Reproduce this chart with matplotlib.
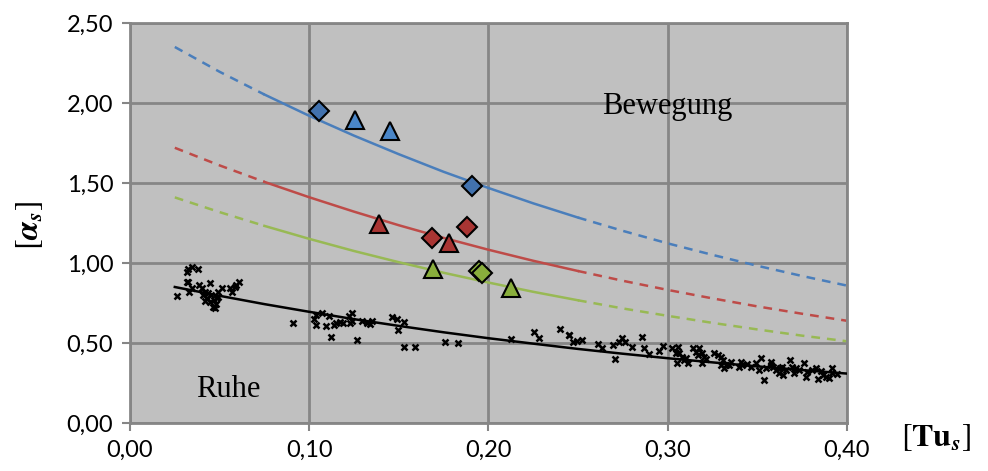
#!/usr/bin/env python
import matplotlib
matplotlib.use('Agg')
import matplotlib.pyplot as plt
import numpy as np

matplotlib.rc('mathtext', fontset='stix')

# fitted curves at regular Tu steps
tu_curve = np.array([0.025, 0.05, 0.075, 0.10, 0.125, 0.15, 0.175, 0.20,
                     0.225, 0.25, 0.275, 0.30, 0.325, 0.35, 0.375, 0.40])
blue_curve = np.array([2.35, 2.195, 2.053, 1.920, 1.796, 1.680, 1.570, 1.469,
                       1.373, 1.284, 1.201, 1.123, 1.051, 0.983, 0.919, 0.859])
red_curve = np.array([1.72, 1.610, 1.507, 1.411, 1.321, 1.236, 1.157, 1.083,
                      1.014, 0.950, 0.889, 0.832, 0.779, 0.729, 0.683, 0.639])
green_curve = np.array([1.41, 1.318, 1.232, 1.151, 1.075, 1.005, 0.939, 0.878,
                        0.820, 0.767, 0.716, 0.670, 0.626, 0.585, 0.546, 0.511])
black_curve = np.array([0.85, 0.795, 0.743, 0.695, 0.649, 0.607, 0.567, 0.530,
                        0.496, 0.463, 0.433, 0.405, 0.379, 0.354, 0.331, 0.309])
solid_from, solid_to = 0.075, 0.25

# measured points (Bewegung)
blue_dia_x = [0.1055, 0.191]
blue_dia_y = [1.952, 1.481]
blue_tri_x = [0.1256, 0.1453]
blue_tri_y = [1.894, 1.826]
red_dia_x = [0.1687, 0.188]
red_dia_y = [1.158, 1.227]
red_tri_x = [0.139, 0.1778]
red_tri_y = [1.242, 1.127]
green_dia_x = [0.1947, 0.1966]
green_dia_y = [0.950, 0.936]
green_tri_x = [0.1689, 0.2126]
green_tri_y = [0.9625, 0.842]

# measured points (Ruhe)
ruhe_x = [0.0264, 0.0319, 0.0325, 0.0344, 0.0381, 0.0316, 0.0325, 0.033, 0.0344, 0.0386,
          0.040, 0.0446, 0.0409, 0.0427, 0.0437, 0.0446, 0.0465, 0.0474, 0.045, 0.0483,
          0.0492, 0.0511, 0.049, 0.047, 0.0557, 0.0567, 0.0585, 0.0609, 0.059, 0.042,
          0.042, 0.048,
          0.0907, 0.1037, 0.1026, 0.104, 0.1074, 0.1096, 0.111, 0.1119, 0.1137, 0.1152,
          0.117, 0.1186, 0.1223, 0.123, 0.1241, 0.124, 0.1267, 0.1297, 0.1323, 0.134,
          0.1353, 0.1464, 0.149, 0.1531, 0.1498, 0.1531, 0.159, 0.176, 0.1828, 0.2129,
          0.2256, 0.2281, 0.240, 0.245,
          0.2449, 0.247, 0.2495, 0.2523, 0.261, 0.2635, 0.2694, 0.2709, 0.2728, 0.2744,
          0.2765, 0.2802, 0.2858, 0.287, 0.2899, 0.2954, 0.2977, 0.3025, 0.3047, 0.3051,
          0.3056, 0.3066, 0.3094, 0.3112, 0.3103, 0.308, 0.314, 0.3159, 0.3177, 0.3192,
          0.3168, 0.3205, 0.3215, 0.3192, 0.326, 0.328, 0.3298, 0.3307, 0.3298, 0.3317,
          0.3326, 0.3344, 0.341, 0.3415, 0.340, 0.3465, 0.3493, 0.352, 0.3512, 0.354,
          0.3549, 0.3577, 0.3586, 0.3605, 0.3623, 0.3642, 0.3638, 0.366, 0.3682, 0.3697,
          0.3716, 0.3735, 0.3763, 0.3772, 0.3781, 0.3809, 0.3828, 0.3837, 0.3865, 0.3884,
          0.3902, 0.3917, 0.392, 0.3948, 0.3355, 0.3445, 0.3575, 0.3625, 0.3705, 0.3855]
ruhe_y = [0.794, 0.946, 0.962, 0.973, 0.960, 0.883, 0.883, 0.820, 0.842, 0.862,
          0.842, 0.873, 0.800, 0.779, 0.810, 0.758, 0.727, 0.717, 0.800, 0.779,
          0.820, 0.842, 0.790, 0.770, 0.842, 0.820, 0.852, 0.879, 0.865, 0.820,
          0.760, 0.745,
          0.627, 0.675, 0.648, 0.612, 0.685, 0.606, 0.669, 0.540, 0.612, 0.627,
          0.630, 0.623, 0.669, 0.623, 0.689, 0.640, 0.519, 0.639, 0.627, 0.620,
          0.639, 0.664, 0.648, 0.631, 0.580, 0.473, 0.473, 0.508, 0.498, 0.525,
          0.571, 0.533, 0.585, 0.550,
          0.550, 0.508, 0.510, 0.519, 0.492, 0.471, 0.487, 0.398, 0.508, 0.533,
          0.508, 0.477, 0.539, 0.467, 0.429, 0.452, 0.483, 0.467, 0.436, 0.377,
          0.473, 0.436, 0.394, 0.373, 0.404, 0.414, 0.467, 0.446, 0.467, 0.436,
          0.425, 0.414, 0.398, 0.373, 0.436, 0.425, 0.414, 0.394, 0.362, 0.342,
          0.362, 0.362, 0.383, 0.362, 0.352, 0.352, 0.373, 0.404, 0.331, 0.269,
          0.342, 0.383, 0.352, 0.331, 0.310, 0.300, 0.352, 0.331, 0.394, 0.352,
          0.342, 0.331, 0.377, 0.289, 0.321, 0.331, 0.342, 0.273, 0.300, 0.289,
          0.279, 0.342, 0.310, 0.306, 0.380, 0.370, 0.365, 0.345, 0.315, 0.325]

xticks = [0.0, 0.1, 0.2, 0.3, 0.4]
yticks = [0.0, 0.5, 1.0, 1.5, 2.0, 2.5]

BLUE, RED, GREEN = '#4A7EBB', '#BE4B48', '#98B954'
GRID = '#868686'

fig = plt.figure(figsize=(9.88, 4.71), dpi=100)
ax = fig.add_axes([0.1316, 0.1019, 0.7254, 0.8493])
ax.set_facecolor('#C0C0C0')


def draw_curve(y, color):
    lw = 1.8
    ax.plot(tu_curve[tu_curve <= solid_from], y[tu_curve <= solid_from],
            color=color, lw=lw, ls=(0, (3.5, 2.8)))
    m = (tu_curve >= solid_from) & (tu_curve <= solid_to)
    ax.plot(tu_curve[m], y[m], color=color, lw=lw)
    ax.plot(tu_curve[tu_curve >= solid_to], y[tu_curve >= solid_to],
            color=color, lw=lw, ls=(0, (3.5, 2.8)))


draw_curve(blue_curve, BLUE)
draw_curve(red_curve, RED)
draw_curve(green_curve, GREEN)
ax.plot(tu_curve, black_curve, color='black', lw=1.8, zorder=3)

ax.plot(ruhe_x, ruhe_y, ls='none', marker='x', color='black', ms=4.8, mew=1.8, zorder=4)

dkw = dict(ls='none', marker='D', ms=10, mec='black', mew=1.5, zorder=5)
tkw = dict(ls='none', marker='^', ms=13.5, mec='black', mew=1.5, zorder=5)
ax.plot(blue_dia_x, blue_dia_y, mfc='#4272AE', **dkw)
ax.plot(blue_tri_x, blue_tri_y, mfc='#4A86C8', **tkw)
ax.plot(red_dia_x, red_dia_y, mfc='#A93533', **dkw)
ax.plot(red_tri_x, red_tri_y, mfc='#A93533', **tkw)
ax.plot(green_dia_x, green_dia_y, mfc='#89AE3C', **dkw)
ax.plot(green_tri_x, green_tri_y, mfc='#89AE3C', **tkw)

ax.text(0.2998, 1.977, 'Bewegung', family='Liberation Serif', fontsize=22,
        ha='center', va='center')
ax.text(0.055, 0.2125, 'Ruhe', family='Liberation Serif', fontsize=22,
        ha='center', va='center')

ax.set_xlim(0, 0.4)
ax.set_ylim(0, 2.5)
ax.set_xticks(xticks)
ax.set_xticklabels([('%.2f' % t).replace('.', ',') for t in xticks])
ax.set_yticks(yticks)
ax.set_yticklabels([('%.2f' % t).replace('.', ',') for t in yticks])
ax.tick_params(length=6, width=1.5, color=GRID, labelsize=17, pad=6)
for lab in ax.get_xticklabels() + ax.get_yticklabels():
    lab.set_family('Lato')
ax.grid(True, color=GRID, lw=2)
ax.set_axisbelow(True)
for s in ax.spines.values():
    s.set_color(GRID)
    s.set_linewidth(2)

fig.text(0.0304, 0.522, r'$[\mathbfit{\alpha}_{\mathbfit{s}}]$', fontsize=23,
         rotation=90, ha='center', va='center')
fig.text(0.947, 0.072, r'$[\mathbf{Tu}_{\mathbfit{s}}]$', fontsize=23,
         ha='center', va='center')

plt.savefig('out.png', dpi=100)
